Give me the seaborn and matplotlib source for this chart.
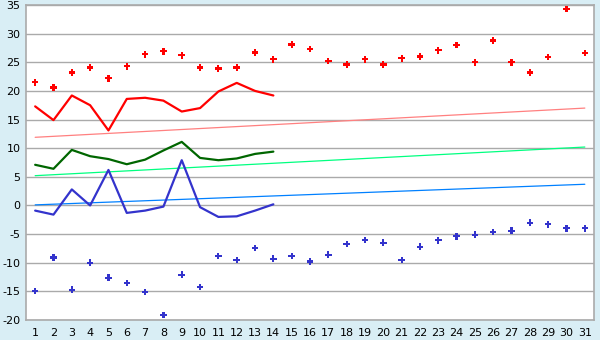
import matplotlib
matplotlib.use("Agg")
import matplotlib.pyplot as plt
import seaborn as sns
import pandas as pd

days = list(range(1, 32))
days_avg = list(range(1, 15))

record_max = [21.5, 20.6, 23.2, 24.1, 22.2, 24.3, 26.4, 26.9, 26.2, 24.1, 23.9, 24.1, 26.7, 25.5, 28.1,
              27.3, 25.2, 24.6, 25.5, 24.6, 25.7, 26.0, 27.1, 28.0, 25.0, 28.8, 25.0, 23.2, 25.9, 34.3, 26.6]
record_min = [-14.9, -9.1, -14.7, -10.0, -12.6, -13.5, -15.1, -19.1, -12.1, -14.2, -8.8, -9.5, -7.4, -9.3, -8.8,
              -9.8, -8.6, -6.7, -6.0, -6.5, -9.5, -7.2, -6.1, -5.4, -5.1, -4.6, -4.4, -3.0, -3.3, -4.0, -4.0]
avg_max = [17.3, 14.9, 19.2, 17.5, 13.1, 18.6, 18.8, 18.3, 16.4, 17.0, 19.9, 21.4, 20.0, 19.2]
avg_mean = [7.1, 6.4, 9.7, 8.6, 8.1, 7.2, 8.0, 9.6, 11.1, 8.3, 7.9, 8.2, 9.0, 9.4]
avg_min = [-0.9, -1.6, 2.8, 0.0, 6.2, -1.3, -0.9, -0.2, 7.9, -0.3, -2.0, -1.9, -0.9, 0.2]

trend_days = [1, 31]
trend_max = [11.9, 17.0]
trend_mean = [5.2, 10.2]
trend_min = [0.1, 3.7]

yticks = list(range(-20, 40, 5))

sns.set_style("white")
plt.rcParams['font.family'] = ['DejaVu Sans']

fig = plt.figure(figsize=(6, 3.4), dpi=100, facecolor='#D9EEF5')
ax = fig.add_axes([26/600, 1-320/340, (594-26)/600, (320-5)/340])
ax.set_facecolor('white')

for y in yticks:
    ax.axhline(y, color='#AAAAAA', lw=1.0, zorder=0)

sns.lineplot(x=trend_days, y=trend_max, ax=ax, color='#FF8080', lw=0.9)
sns.lineplot(x=trend_days, y=trend_mean, ax=ax, color='#00FF80', lw=0.9)
sns.lineplot(x=trend_days, y=trend_min, ax=ax, color='#0080FF', lw=0.9)

sns.lineplot(x=days_avg, y=avg_max, ax=ax, color='#FF0000', lw=1.6)
sns.lineplot(x=days_avg, y=avg_mean, ax=ax, color='#006600', lw=1.6)
sns.lineplot(x=days_avg, y=avg_min, ax=ax, color='#3333CC', lw=1.6)

sns.scatterplot(x=days, y=record_max, ax=ax, color='#FF0000', marker='P', s=22, edgecolor='none', zorder=5)
sns.scatterplot(x=days, y=record_min, ax=ax, color='#3333CC', marker='P', s=22, edgecolor='none', zorder=5)

ax.set_xlim(0.5, 31.5)
ax.set_ylim(-20, 35)
ax.set_xticks(days)
ax.set_xticklabels([str(d) for d in days])
ax.set_yticks(yticks)
ax.set_yticklabels([str(y) for y in yticks])
ax.tick_params(axis='both', labelsize=8, colors='black', length=4, width=1, direction='out')
ax.tick_params(axis='x', pad=2)
ax.tick_params(axis='y', pad=1, length=3)
for s in ax.spines.values():
    s.set_color('#AAAAAA')
    s.set_linewidth(1.2)
ax.set_xlabel('')
ax.set_ylabel('')

fig.savefig('out.png', dpi=100, facecolor=fig.get_facecolor())
